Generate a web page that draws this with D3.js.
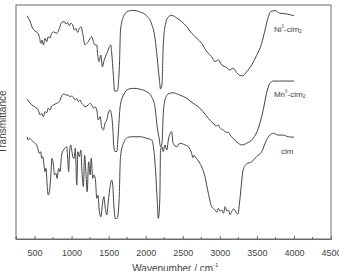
<!DOCTYPE html>
<html lang="en">

<head>
  <meta charset="utf-8">
  <title>IR spectra</title>
  <style>
    body { margin: 0; background: #fff; }
    svg { display: block; font-family: "Liberation Sans", Arial, sans-serif; }
  </style>
</head>

<body>
  <script src="https://cdn.jsdelivr.net/npm/d3@7/dist/d3.min.js"></script>
  <script>
    // wavenumber (cm-1), transmittance (offset, a.u.)
    var niData = [
      [400, 95.4], [440, 92.9], [475, 90.0], [505, 88.9], [535, 88.3], [565, 86.5], [585, 83.6],
      [600, 85.0], [620, 82.9], [640, 85.8], [665, 84.3], [685, 86.5], [710, 85.8], [730, 87.9],
      [755, 88.5], [800, 87.9], [835, 90.0], [865, 92.6], [900, 92.9], [925, 91.8], [945, 92.6],
      [970, 91.2], [990, 92.2], [1015, 91.5], [1035, 89.3], [1060, 90.0], [1080, 88.3], [1105, 90.0],
      [1125, 90.7], [1150, 87.9], [1180, 82.9], [1205, 83.6], [1225, 84.3], [1250, 85.8], [1270, 86.5],
      [1295, 84.3], [1315, 82.9], [1340, 82.9], [1350, 79.4], [1370, 75.8], [1395, 78.6], [1415, 73.6],
      [1440, 76.5], [1465, 78.6], [1485, 80.0], [1510, 82.2], [1530, 82.9], [1540, 80.0], [1565, 69.4],
      [1580, 63.2], [1615, 63.2], [1645, 73.6], [1660, 89.3], [1700, 95.0], [1765, 97.4], [1830, 97.7],
      [1925, 97.0], [2015, 95.3], [2080, 91.9], [2125, 85.9], [2155, 77.4], [2185, 67.9], [2200, 64.1],
      [2220, 66.2], [2235, 81.6], [2260, 90.7], [2305, 94.9], [2350, 95.6], [2420, 94.4], [2485, 92.9],
      [2555, 90.7], [2620, 87.9], [2690, 85.8], [2755, 83.6], [2825, 80.0], [2890, 77.9], [2935, 75.8],
      [2980, 76.5], [3025, 74.4], [3090, 73.3], [3135, 72.2], [3180, 73.0], [3225, 71.2], [3270, 69.9],
      [3310, 69.7], [3360, 71.4], [3430, 74.4], [3495, 78.4], [3565, 83.6], [3610, 89.3], [3655, 95.0],
      [3685, 97.1], [3745, 97.6], [3810, 96.5], [3900, 96.2], [4000, 95.4]
    ];

    var mnData = [
      [400, 59.7], [440, 58.0], [485, 56.8], [530, 55.9], [550, 55.1], [575, 53.0], [595, 53.7],
      [620, 52.3], [640, 54.4], [665, 54.0], [685, 55.9], [710, 55.1], [730, 56.8], [755, 57.3],
      [800, 58.0], [835, 58.7], [865, 61.1], [900, 62.0], [925, 61.5], [955, 61.5], [980, 60.8],
      [1000, 61.1], [1025, 60.6], [1045, 59.4], [1070, 60.1], [1090, 58.7], [1115, 59.4], [1135, 58.0],
      [1160, 57.3], [1180, 56.5], [1205, 56.8], [1225, 57.3], [1250, 58.0], [1270, 57.3], [1295, 55.9],
      [1315, 56.5], [1340, 55.1], [1360, 50.9], [1385, 52.3], [1405, 48.0], [1430, 46.6], [1450, 49.4],
      [1475, 50.9], [1495, 53.7], [1520, 55.1], [1530, 54.4], [1555, 48.0], [1570, 39.4], [1585, 37.4],
      [1610, 37.4], [1630, 45.3], [1655, 56.5], [1700, 61.5], [1765, 64.0], [1830, 64.4], [1925, 64.0],
      [2015, 62.9], [2080, 60.8], [2125, 56.5], [2155, 48.0], [2185, 42.3], [2200, 39.4], [2220, 40.9],
      [2235, 52.3], [2260, 59.4], [2305, 62.0], [2370, 62.5], [2460, 61.5], [2555, 60.1], [2640, 58.0],
      [2710, 56.5], [2775, 54.4], [2845, 51.6], [2910, 49.4], [2960, 48.3], [2980, 48.8], [3000, 47.6],
      [3045, 46.6], [3090, 45.6], [3115, 45.6], [3140, 44.4], [3180, 43.0], [3250, 40.9], [3295, 40.2],
      [3360, 40.9], [3450, 43.0], [3520, 47.4], [3585, 55.1], [3630, 62.3], [3675, 66.5], [3720, 67.5],
      [3810, 67.5], [3900, 67.5], [4000, 67.5]
    ];

    var cimData = [
      [400, 43.7], [415, 42.3], [430, 43.0], [460, 42.3], [505, 40.9], [530, 40.2], [550, 38.0],
      [565, 36.6], [585, 37.3], [595, 34.5], [610, 35.2], [630, 30.9], [640, 28.8], [655, 30.2],
      [670, 23.1], [685, 18.8], [700, 20.1], [720, 27.4], [735, 34.5], [755, 31.6], [770, 27.4],
      [790, 28.1], [805, 25.9], [825, 30.2], [845, 28.8], [865, 35.9], [890, 38.0], [910, 38.8],
      [935, 39.4], [945, 35.9], [960, 28.8], [975, 38.0], [990, 40.2], [1005, 37.3], [1025, 34.5],
      [1035, 34.5], [1050, 38.8], [1070, 23.1], [1085, 37.3], [1105, 35.2], [1125, 38.0], [1140, 28.8],
      [1160, 22.4], [1175, 35.9], [1195, 27.4], [1210, 20.2], [1230, 33.0], [1250, 27.4], [1265, 34.5],
      [1285, 25.9], [1300, 27.4], [1320, 25.9], [1340, 17.4], [1355, 18.8], [1375, 11.7], [1395, 9.5],
      [1420, 15.9], [1435, 18.1], [1455, 13.1], [1475, 10.3], [1495, 15.9], [1520, 22.4], [1540, 25.2],
      [1555, 23.1], [1570, 14.5], [1590, 8.8], [1615, 8.8], [1640, 15.9], [1660, 35.2], [1700, 40.9],
      [1765, 43.5], [1830, 43.7], [1925, 43.7], [2015, 43.0], [2080, 42.3], [2110, 38.0], [2135, 28.1],
      [2155, 16.7], [2170, 8.8], [2190, 16.7], [2200, 38.0], [2220, 39.4], [2235, 37.3], [2260, 40.2],
      [2285, 38.0], [2305, 42.3], [2330, 45.2], [2350, 45.9], [2370, 40.9], [2420, 39.4], [2460, 40.9],
      [2530, 40.2], [2575, 39.4], [2620, 36.6], [2635, 34.8], [2650, 35.8], [2665, 35.2], [2730, 32.4],
      [2800, 26.6], [2845, 19.5], [2890, 13.8], [2935, 12.4], [2960, 11.4], [2980, 13.1], [3000, 12.0],
      [3025, 12.4], [3050, 11.0], [3070, 13.8], [3095, 12.0], [3115, 12.4], [3140, 10.4], [3160, 11.7],
      [3185, 12.8], [3205, 12.4], [3225, 11.0], [3245, 10.7], [3270, 16.7], [3315, 29.5], [3360, 32.1],
      [3430, 33.0], [3495, 35.2], [3565, 37.3], [3630, 42.3], [3675, 44.4], [3720, 45.2], [3790, 44.4],
      [3855, 44.4], [3925, 43.7], [4000, 43.5]
    ];

    // curve labels: text parts and where they sit (wavenumber, transmittance)
    var seriesNames = [
      { base: "Ni", sup: "II", rest: "-cim", sub: "2", at: 3730, value: 88.5 },
      { base: "Mn", sup: "II", rest: "-cim", sub: "2", at: 3730, value: 60.8 },
      { base: "cim", sup: "", rest: "", sub: "", at: 3825, value: 36.4 }
    ];

    var majorTicks = [500, 1000, 1500, 2000, 2500, 3000, 3500, 4000, 4500];
    var minorTicks = [250, 750, 1250, 1750, 2250, 2750, 3250, 3750, 4250];

    var margin = { top: 5, right: 8, bottom: 32, left: 16 };
    var width = 339 - margin.left - margin.right;
    var height = 271 - margin.top - margin.bottom;
    var ink = "#444";

    var svg = d3.select("body").append("svg")
      .attr("width", 339)
      .attr("height", 271);

    var g = svg.append("g")
      .attr("transform", "translate(" + margin.left + "," + margin.top + ")");

    var x = d3.scaleLinear()
      .domain([250, 4500])
      .range([0, width]);

    var y = d3.scaleLinear()
      .domain([0, 100])
      .range([height, 0]);

    var line = d3.line()
      .x(function(d) { return x(d[0]); })
      .y(function(d) { return y(d[1]); })
      .curve(d3.curveMonotoneX);

    // frame
    g.append("rect")
      .attr("width", width)
      .attr("height", height)
      .attr("fill", "none")
      .attr("stroke", "#6a6a6a")
      .attr("stroke-width", 1);

    // bottom axis, ticks pointing inside
    var xAxis = g.append("g")
      .attr("transform", "translate(0," + height + ")")
      .call(d3.axisBottom(x).tickValues(majorTicks).tickFormat(d3.format("d")).tickSize(-3).tickPadding(11));
    xAxis.select(".domain").attr("stroke", "#6a6a6a");
    xAxis.selectAll(".tick line").attr("stroke", "#6a6a6a");
    xAxis.selectAll(".tick text")
      .attr("font-size", 9)
      .attr("font-family", "'Liberation Sans', Arial, sans-serif")
      .attr("fill", "#444");

    g.append("g")
      .attr("transform", "translate(0," + height + ")")
      .selectAll("line")
      .data(minorTicks)
      .enter().append("line")
      .attr("x1", function(d) { return x(d); })
      .attr("x2", function(d) { return x(d); })
      .attr("y1", 0)
      .attr("y2", -2)
      .attr("stroke", "#6a6a6a");

    // spectra
    [niData, mnData, cimData].forEach(function(data) {
      g.append("path")
        .datum(data)
        .attr("fill", "none")
        .attr("stroke", ink)
        .attr("stroke-width", 1)
        .attr("stroke-linejoin", "round")
        .attr("d", line);
    });

    // curve labels
    var labels = g.selectAll(".label")
      .data(seriesNames)
      .enter().append("text")
      .attr("class", "label")
      .attr("x", function(d) { return x(d.at); })
      .attr("y", function(d) { return y(d.value); })
      .attr("font-size", 8)
      .attr("fill", "#444");

    labels.append("tspan").text(function(d) { return d.base; });
    labels.append("tspan")
      .attr("font-size", 4.5)
      .attr("dy", -3.5)
      .text(function(d) { return d.sup; });
    labels.append("tspan")
      .attr("dy", function(d) { return d.sup ? 3.5 : 0; })
      .text(function(d) { return d.rest; });
    labels.append("tspan")
      .attr("font-size", 5)
      .attr("dy", 1.5)
      .text(function(d) { return d.sub; });

    // axis titles
    var xTitle = svg.append("text")
      .attr("x", margin.left + x(2400))
      .attr("y", 272)
      .attr("text-anchor", "middle")
      .attr("font-size", 10)
      .attr("fill", "#444");
    xTitle.append("tspan").text("Wavenumber / cm");
    xTitle.append("tspan").attr("font-size", 6).attr("dy", -5).text("-1");

    svg.append("text")
      .attr("transform", "translate(6," + (margin.top + height / 2) + ") rotate(-90)")
      .attr("text-anchor", "middle")
      .attr("font-size", 10)
      .attr("fill", "#444")
      .text("Transmittance");
  </script>
</body>

</html>
